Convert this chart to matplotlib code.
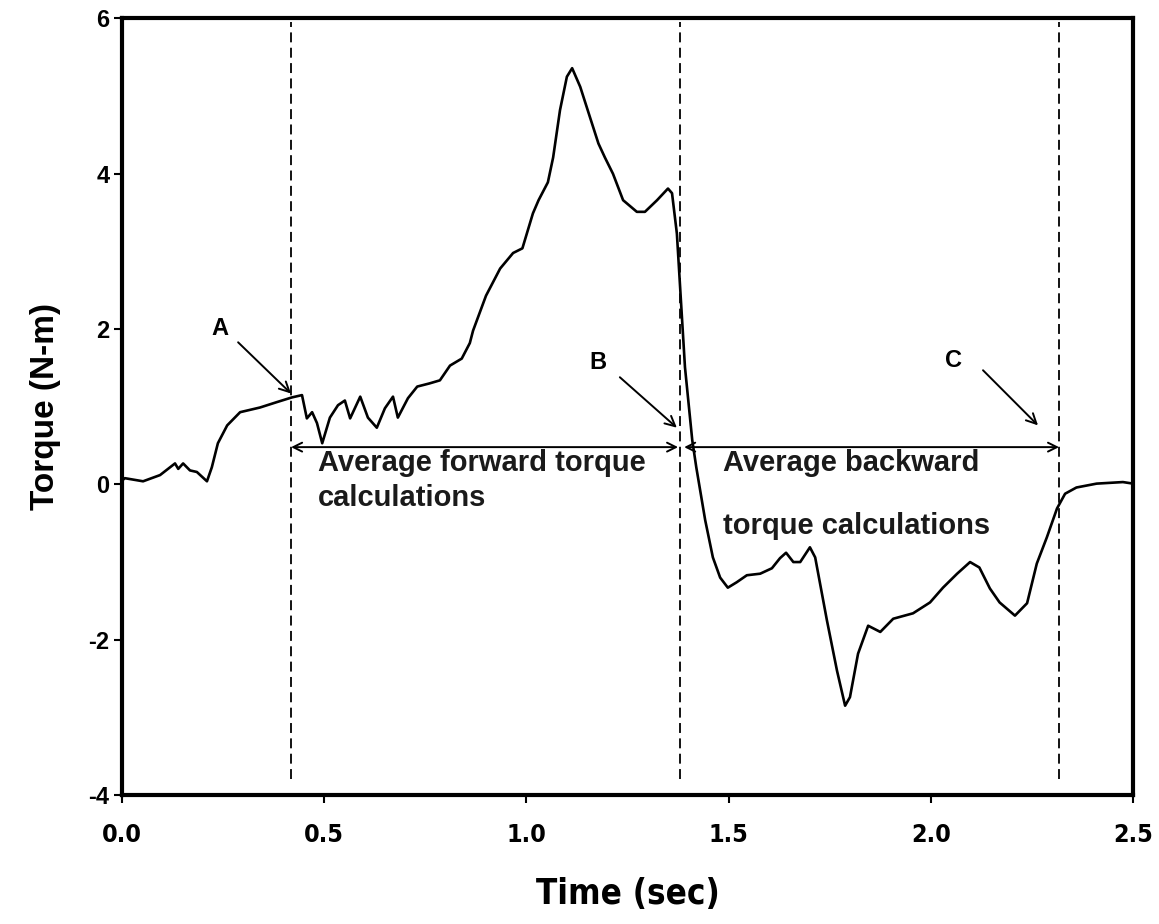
import matplotlib.pyplot as plt

plt.rcParams['axes.unicode_minus'] = False

# torque trace
time_s = [0.0, 0.007, 0.052, 0.094, 0.131, 0.139, 0.151, 0.168, 0.185, 0.21, 0.222,
          0.237, 0.26, 0.292, 0.341, 0.383, 0.42, 0.445, 0.457, 0.47, 0.482, 0.495,
          0.514, 0.534, 0.551, 0.564, 0.589, 0.608, 0.63, 0.65, 0.67, 0.682, 0.707,
          0.73, 0.76, 0.786, 0.811, 0.84, 0.86, 0.868, 0.9, 0.935, 0.967, 0.99,
          1.016, 1.03, 1.053, 1.066, 1.083, 1.1, 1.113, 1.133, 1.157, 1.178, 1.194,
          1.214, 1.239, 1.273, 1.293, 1.323, 1.35, 1.36, 1.372, 1.38, 1.392, 1.41,
          1.42, 1.442, 1.461, 1.479, 1.498, 1.52, 1.545, 1.578, 1.607, 1.627, 1.642,
          1.66, 1.677, 1.701, 1.714, 1.743, 1.768, 1.788, 1.8, 1.82, 1.845, 1.875,
          1.907, 1.956, 1.998, 2.03, 2.065, 2.097, 2.12, 2.146, 2.17, 2.208, 2.238,
          2.262, 2.287, 2.312, 2.332, 2.36, 2.41, 2.475, 2.5]
torque = [0.05, 0.08, 0.04, 0.12, 0.27, 0.2, 0.27, 0.18, 0.16, 0.04, 0.22,
          0.53, 0.76, 0.93, 0.99, 1.06, 1.12, 1.15, 0.85, 0.93, 0.79, 0.53,
          0.86, 1.02, 1.08, 0.85, 1.13, 0.86, 0.73, 0.98, 1.13, 0.86, 1.11,
          1.26, 1.3, 1.34, 1.53, 1.62, 1.82, 1.98, 2.43, 2.78, 2.98, 3.04,
          3.49, 3.66, 3.89, 4.21, 4.82, 5.25, 5.36, 5.12, 4.73, 4.39, 4.21,
          4.0, 3.66, 3.51, 3.51, 3.66, 3.81, 3.75, 3.23, 2.54, 1.51, 0.57,
          0.22, -0.46, -0.94, -1.2, -1.33, -1.26, -1.17, -1.15, -1.08, -0.95, -0.88,
          -1.0, -1.0, -0.81, -0.94, -1.75, -2.4, -2.85, -2.74, -2.18, -1.82, -1.9,
          -1.73, -1.66, -1.52, -1.33, -1.15, -1.0, -1.07, -1.34, -1.52, -1.69, -1.53,
          -1.02, -0.68, -0.31, -0.12, -0.04, 0.01, 0.03, 0.01]

# points A, B, C
marks_t = [0.418, 1.38, 2.317]
mark_labels = ['A', 'B', 'C']
label_pos = [(0.242, 2.01), (1.177, 1.57), (2.055, 1.6)]
arrow_from = [(0.287, 1.83), (1.231, 1.38), (2.129, 1.47)]
arrow_to = [(0.418, 1.17), (1.372, 0.73), (2.265, 0.76)]
span_y = 0.48

xticks = [0.0, 0.5, 1.0, 1.5, 2.0, 2.5]
yticks = [-4, -2, 0, 2, 4, 6]

sans = ['Liberation Sans', 'DejaVu Sans']

fig = plt.figure(figsize=(11.59, 9.24), dpi=100)
ax = fig.add_axes([0.1053, 0.1396, 0.8723, 0.8404])

ax.plot(time_s, torque, color='black', lw=1.9, zorder=3)

for t in marks_t:
    ax.axvline(t, ymin=0.02, ymax=0.995, color='black', lw=1.3,
               dashes=(5.5, 3))

# span arrows
ax.annotate('', xy=(marks_t[0], span_y), xytext=(marks_t[1] - 0.005, span_y),
            arrowprops=dict(arrowstyle='<->', color='black', lw=1.4,
                            shrinkA=0, shrinkB=0, mutation_scale=16))
ax.annotate('', xy=(marks_t[1] + 0.01, span_y), xytext=(marks_t[2], span_y),
            arrowprops=dict(arrowstyle='<->', color='black', lw=1.4,
                            shrinkA=0, shrinkB=0, mutation_scale=16))

for lab, pos, a0, a1 in zip(mark_labels, label_pos, arrow_from, arrow_to):
    ax.text(pos[0], pos[1], lab, ha='center', va='center', fontsize=17,
            fontweight='bold', family=sans)
    ax.annotate('', xy=a1, xytext=a0,
                arrowprops=dict(arrowstyle='->', color='black', lw=1.4,
                                shrinkA=0, shrinkB=0, mutation_scale=18))

txt = dict(ha='left', va='center', fontsize=21, fontweight='bold',
           family=sans, color='#1a1a1a')
ax.text(0.485, 0.27, 'Average forward torque', **txt)
ax.text(0.485, -0.17, 'calculations', **txt)
ax.text(1.485, 0.27, 'Average backward', **txt)
ax.text(1.485, -0.53, 'torque calculations', **txt)

ax.set_xlim(0, 2.5)
ax.set_ylim(-4, 6)
ax.set_xticks(xticks)
ax.set_xticklabels([f'{v:.1f}' for v in xticks], fontsize=18,
                   fontweight='bold', family=['DejaVu Sans'],
                   fontstretch='condensed')
ax.set_yticks(yticks)
ax.set_yticklabels([str(v) for v in yticks], fontsize=17,
                   fontweight='bold', family=sans)
ax.tick_params(direction='out', length=6, width=1.5, pad=14, axis='x')
ax.tick_params(direction='out', length=6, width=1.5, pad=3, axis='y')

for s in ax.spines.values():
    s.set_linewidth(3)

ax.set_xlabel('Time (sec)', fontsize=25, fontweight='bold',
              family=['DejaVu Sans'], fontstretch='condensed', labelpad=22)
ax.set_ylabel('Torque (N-m)', fontsize=24, fontweight='bold', family=sans,
              labelpad=20)

plt.savefig('out.png', dpi=100)
